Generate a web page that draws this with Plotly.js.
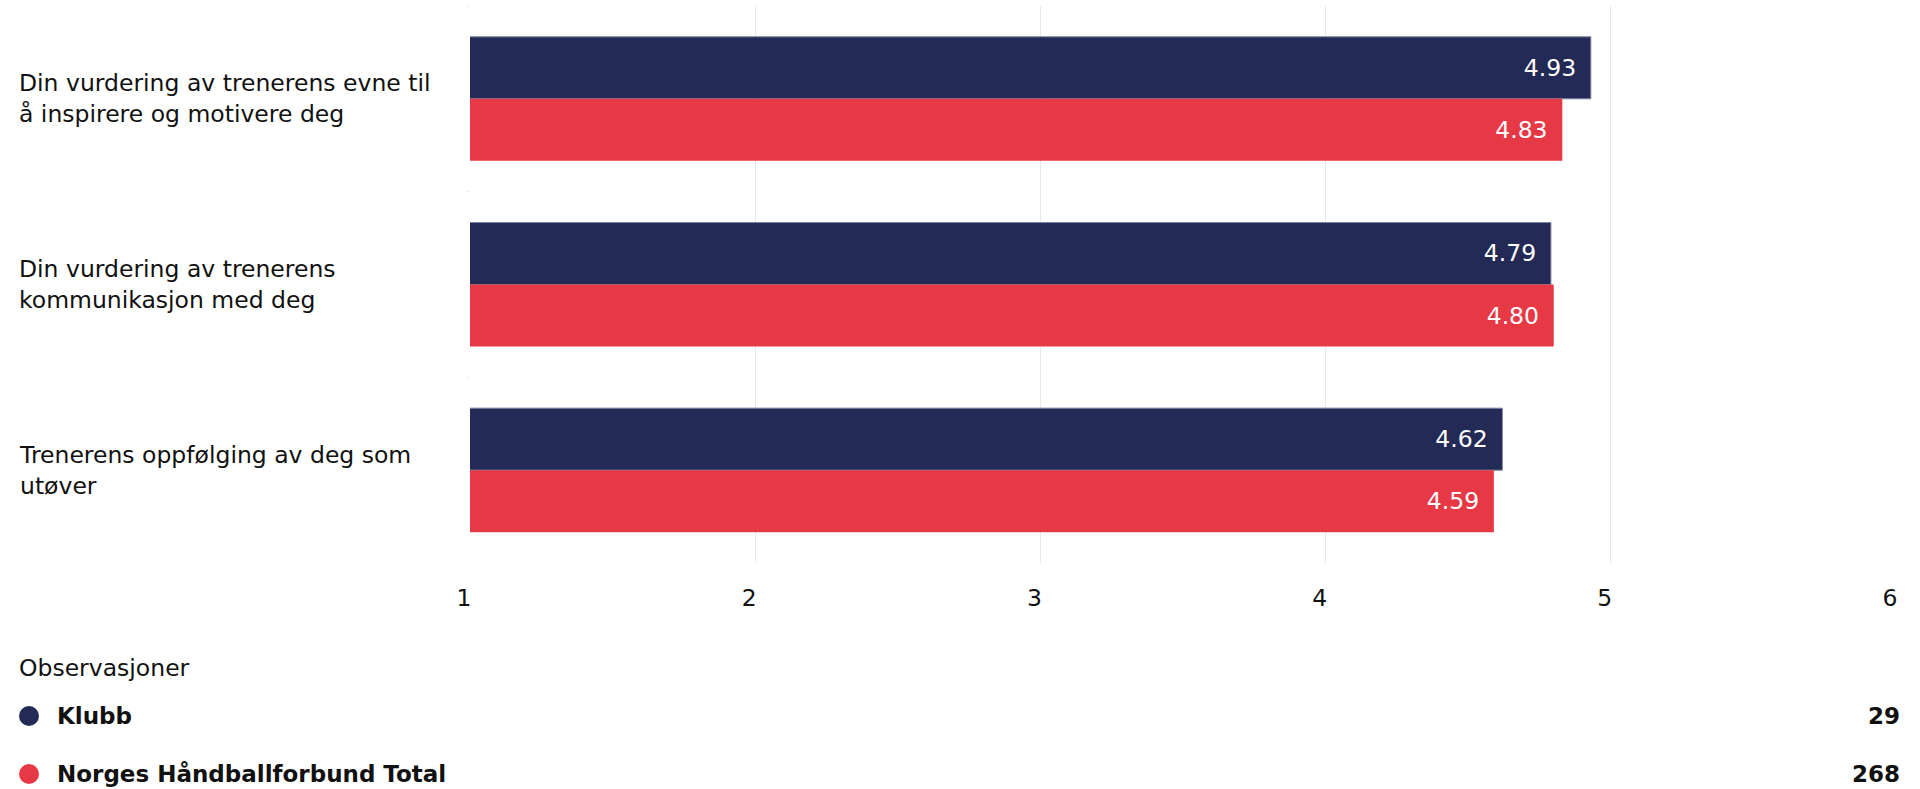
<!DOCTYPE html>
<html>
<head>
<meta charset="utf-8">
<script src="https://cdn.plot.ly/plotly-3.0.1.min.js"></script>
<style>html,body{margin:0;padding:0;background:#fff;}#chart{width:1920px;height:789px;}</style>
</head>
<body>
<div id="chart"></div>
<script>
// ---- data ----
const categories = [
  "Din vurdering av trenerens evne til å inspirere og motivere deg",
  "Din vurdering av trenerens kommunikasjon med deg",
  "Trenerens oppfølging av deg som utøver"
];
const tickLabels = [
  "Din vurdering av trenerens evne til<br>å inspirere og motivere deg",
  "Din vurdering av trenerens<br>kommunikasjon med deg",
  "Trenerens oppfølging av deg som<br>utøver"
];
const seriesNames = ["Klubb", "Norges Håndballforbund Total"];
const klubbValues = [4.93, 4.79, 4.62];
const nhfValues = [4.83, 4.80, 4.59];
const observations = [29, 268];
const xTicks = [1, 2, 3, 4, 5, 6];
const legendTitle = "Observasjoner";

// ---- style ----
const FONT = "DejaVu Sans, Liberation Sans, Arial, sans-serif";
const FS = 23.5;
const colors = ["#232a55", "#e73845"];
const W = 1920, H = 789;
const M = {l: 470, r: 24, t: 6, b: 226};
const plotW = W - M.l - M.r, plotH = H - M.t - M.b;
const px2x = p => (p - M.l) / plotW;
const px2y = p => (H - M.b - p) / plotH;

const traces = [klubbValues, nhfValues].map((vals, i) => ({
  type: "bar",
  orientation: "h",
  name: seriesNames[i],
  x: vals,
  y: categories,
  base: 0,
  marker: {color: colors[i], line: {width: i === 0 ? 1 : 0, color: "#7d84a2"}},
  texttemplate: "%{x:.2f}\u2002",
  textposition: "inside",
  insidetextanchor: "end",
  textfont: {family: FONT, size: FS, color: "#ffffff"},
  constraintext: "none",
  hoverinfo: "x+name",
  showlegend: false
}));

const annotations = [];
categories.forEach((c, i) => {
  annotations.push({
    xref: "paper", yref: "y", x: px2x(17), y: c,
    xanchor: "left", yanchor: "middle", align: "left",
    text: tickLabels[i], showarrow: false,
    font: {family: FONT, size: FS, color: "#111"}
  });
});
annotations.push({
  xref: "paper", yref: "paper", x: px2x(17), y: px2y(668),
  xanchor: "left", yanchor: "middle", align: "left",
  text: legendTitle, showarrow: false,
  font: {family: FONT, size: FS, color: "#111"}
});
const legendY = [716, 774];
const shapes = [];
seriesNames.forEach((n, i) => {
  annotations.push({
    xref: "paper", yref: "paper", x: px2x(55), y: px2y(legendY[i]),
    xanchor: "left", yanchor: "middle", align: "left",
    text: "<b>" + n + "</b>", showarrow: false,
    font: {family: FONT, size: 23, color: "#111"}
  });
  annotations.push({
    xref: "paper", yref: "paper", x: px2x(1902), y: px2y(legendY[i]),
    xanchor: "right", yanchor: "middle", align: "right",
    text: "<b>" + observations[i] + "</b>", showarrow: false,
    font: {family: FONT, size: 23, color: "#111"}
  });
  shapes.push({
    type: "circle", xref: "paper", yref: "paper",
    xsizemode: "pixel", ysizemode: "pixel",
    xanchor: px2x(29), yanchor: px2y(legendY[i]),
    x0: -10, x1: 10, y0: -10, y1: 10,
    fillcolor: colors[i], line: {width: 0}
  });
});

const layout = {
  width: W, height: H,
  margin: M,
  paper_bgcolor: "#ffffff",
  plot_bgcolor: "#ffffff",
  barmode: "group",
  bargap: 0.332,
  bargroupgap: 0,
  showlegend: false,
  font: {family: FONT, size: FS, color: "#111"},
  xaxis: {
    range: [1, 6],
    tickvals: xTicks,
    ticktext: xTicks.map(String),
    showgrid: true, gridcolor: "#e8e8ea", gridwidth: 1,
    zeroline: false, showline: false,
    ticks: "", ticklabelstandoff: 18, ticklabelshift: -6,
    tickfont: {family: FONT, size: FS, color: "#111"},
    fixedrange: true
  },
  yaxis: {
    type: "category",
    autorange: "reversed",
    showticklabels: false,
    showgrid: false, zeroline: false, showline: false,
    ticks: "outside", tickson: "boundaries", ticklen: 3, tickcolor: "#eeeeee",
    fixedrange: true
  },
  annotations: annotations,
  shapes: shapes
};

Plotly.newPlot("chart", traces, layout, {displayModeBar: false, staticPlot: true});
</script>
</body>
</html>
